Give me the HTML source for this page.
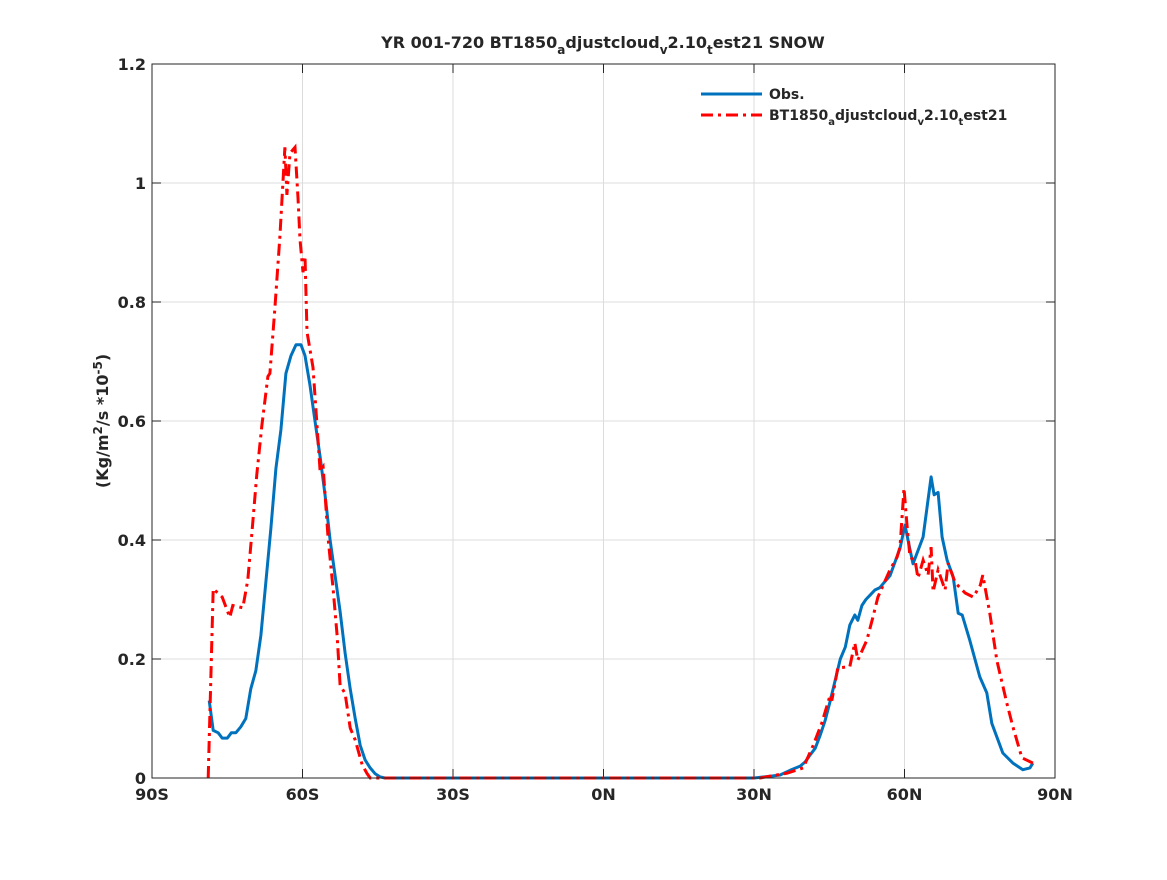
<!DOCTYPE html>
<html><head><meta charset="utf-8"><style>
body{margin:0;background:#fff}
svg text{font-family:"DejaVu Sans","Liberation Sans",sans-serif;font-weight:bold;fill:#262626}
</style></head><body>
<svg id="chart" width="1167" height="875" xmlns="http://www.w3.org/2000/svg">
<rect width="1167" height="875" fill="#fff"/>
<text x="603" y="48" text-anchor="middle" font-size="16">YR 001-720 BT1850<tspan font-size="12" dy="6">a</tspan><tspan dy="-6">djustcloud</tspan><tspan font-size="12" dy="6">v</tspan><tspan dy="-6">2.10</tspan><tspan font-size="12" dy="6">t</tspan><tspan dy="-6">est21 SNOW</tspan></text>
<g id="grid"></g>
<g id="ticks"></g>
<g id="series"></g>
<rect x="152" y="64" width="903" height="714" fill="none" stroke="#262626" stroke-width="1"/>
<text transform="translate(108,421) rotate(-90)" text-anchor="middle" font-size="16">(Kg/m<tspan font-size="12" dy="-6">2</tspan><tspan dy="6">/s *10</tspan><tspan font-size="12" dy="-6">-5</tspan><tspan dy="6">)</tspan></text>
<g>
<line x1="701" y1="94" x2="762" y2="94" stroke="#0072BD" stroke-width="3"/>
<text x="769" y="99" font-size="14">Obs.</text>
<line x1="701" y1="115" x2="762" y2="115" stroke="#FF0000" stroke-width="3" stroke-dasharray="12,5,3,5"/>
<text x="769" y="120" font-size="14">BT1850<tspan font-size="10" dy="5">a</tspan><tspan dy="-5">djustcloud</tspan><tspan font-size="10" dy="5">v</tspan><tspan dy="-5">2.10</tspan><tspan font-size="10" dy="5">t</tspan><tspan dy="-5">est21</tspan></text>
</g>
</svg>
<script>
const xTicks=[-90,-60,-30,0,30,60,90];
const xTickLabels=["90S","60S","30S","0N","30N","60N","90N"];
const yTicks=[0,0.2,0.4,0.6,0.8,1,1.2];
const yTickLabels=["0","0.2","0.4","0.6","0.8","1","1.2"];
const obsLat=[-78.6,-77.8,-76.8,-76,-75,-74.2,-73.3,-72.3,-71.3,-70.3,-69.3,-68.3,-67.3,-66.3,-65.3,-64.3,-63.3,-62.3,-61.3,-60.3,-59.5,-58.5,-57.5,-56.5,-55.5,-54.5,-53.5,-52.5,-51.5,-50.5,-49.5,-48.5,-47.5,-46.5,-45.5,-44.6,-43.6,0,30,33.2,35.2,37.2,39.2,40.2,41.2,42.2,43.2,44.2,45.2,46.2,47.2,48.2,49.1,50.1,50.7,51.5,52.3,53.1,54.1,55.1,56.1,57.1,58.1,59.1,60.1,60.7,61.7,63.7,65.3,65.9,66.7,67.5,68.5,69.7,70.7,71.5,73,75,76.4,77.4,79.6,81.6,83.6,85,85.6];
const obsVal=[0.13,0.08,0.076,0.067,0.067,0.076,0.076,0.086,0.10,0.15,0.18,0.24,0.33,0.42,0.52,0.585,0.68,0.71,0.728,0.728,0.71,0.66,0.60,0.54,0.475,0.40,0.34,0.28,0.21,0.15,0.10,0.055,0.03,0.017,0.007,0.002,0,0,0,0.003,0.005,0.013,0.02,0.027,0.039,0.05,0.072,0.097,0.13,0.165,0.2,0.22,0.257,0.274,0.265,0.29,0.30,0.307,0.316,0.32,0.33,0.34,0.363,0.386,0.425,0.40,0.36,0.405,0.506,0.476,0.48,0.405,0.366,0.338,0.277,0.274,0.232,0.17,0.143,0.092,0.042,0.025,0.014,0.017,0.025];
const modLat=[-78.8,-77.8,-76,-74.5,-73.9,-71.9,-70.9,-70.1,-69.1,-68.1,-66.9,-66.5,-65.5,-64.5,-63.5,-63.1,-62.5,-61.5,-60.9,-60.5,-59.9,-59.5,-59.1,-57.9,-57.1,-56.5,-55.9,-54.9,-53.9,-53.1,-52.5,-51.5,-50.5,-49.5,-48.1,-47.1,-46.5,0,31.2,36.6,39.8,41.8,43.5,45.2,45.5,46.7,49.1,50.1,50.7,52.5,53.7,54.7,57.1,58.5,59.1,59.9,60.5,61.1,62.1,62.7,63.7,64.7,65.3,65.7,66.7,68.1,68.7,70.1,72.1,73.7,75.1,75.6,77,78.4,80.4,81.6,83.4,85.6];
const modVal=[0,0.318,0.304,0.27,0.29,0.286,0.333,0.41,0.51,0.593,0.675,0.68,0.79,0.91,1.06,0.98,1.05,1.06,0.975,0.905,0.85,0.877,0.75,0.69,0.593,0.516,0.523,0.403,0.318,0.24,0.156,0.142,0.084,0.064,0.022,0.007,0,0,0,0.008,0.017,0.055,0.092,0.14,0.13,0.185,0.187,0.227,0.198,0.232,0.27,0.304,0.35,0.371,0.388,0.487,0.425,0.371,0.366,0.336,0.366,0.341,0.388,0.313,0.35,0.316,0.361,0.328,0.311,0.304,0.324,0.341,0.277,0.198,0.126,0.086,0.034,0.025];
const X0=152,X1=1055,Y0=778,Y1=64;
const xs=v=>X0+(v+90)/180*(X1-X0);
const ys=v=>Y0-v/1.2*(Y0-Y1);
const NS="http://www.w3.org/2000/svg";
const grid=document.getElementById('grid'),ticks=document.getElementById('ticks'),series=document.getElementById('series');
function mk(t,a,p){const e=document.createElementNS(NS,t);for(const k in a)e.setAttribute(k,a[k]);p.appendChild(e);return e;}
xTicks.forEach((v,i)=>{const x=xs(v);
 const g=mk('line',{x1:x,x2:x,y1:Y1,y2:Y0,stroke:'#dcdcdc','stroke-width':1},grid);
 
 
 mk('line',{x1:x,x2:x,y1:Y0,y2:Y0-9,stroke:'#262626'},ticks);
 mk('line',{x1:x,x2:x,y1:Y1,y2:Y1+9,stroke:'#262626'},ticks);
 const t=mk('text',{x:x,y:Y0+22,'text-anchor':'middle','font-size':16},ticks);t.textContent=xTickLabels[i];
 
 });
yTicks.forEach((v,i)=>{const y=ys(v);
 const g=mk('line',{x1:X0,x2:X1,y1:y,y2:y,stroke:'#dcdcdc','stroke-width':1},grid);
 
 
 mk('line',{x1:X0,x2:X0+9,y1:y,y2:y,stroke:'#262626'},ticks);
 mk('line',{x1:X1,x2:X1-9,y1:y,y2:y,stroke:'#262626'},ticks);
 const t=mk('text',{x:X0-6,y:y+6,'text-anchor':'end','font-size':16},ticks);t.textContent=yTickLabels[i];
 
 });
function pts(la,va){return la.map((l,i)=>xs(l).toFixed(1)+','+ys(va[i]).toFixed(1)).join(' ');}
const p1=mk('polyline',{points:pts(obsLat,obsVal),fill:'none',stroke:'#0072BD','stroke-width':3,'stroke-linejoin':'round'},series);


const p2=mk('polyline',{points:pts(modLat,modVal),fill:'none',stroke:'#FF0000','stroke-width':3,'stroke-dasharray':'12,5,3,5'},series);


</script>
</body></html>
